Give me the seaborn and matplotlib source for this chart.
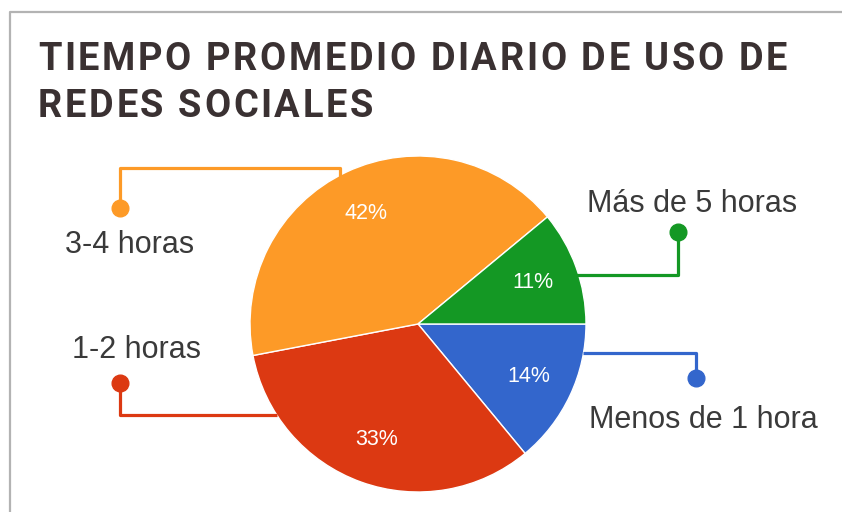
import matplotlib
matplotlib.use("Agg")
import matplotlib.pyplot as plt
import seaborn as sns
from matplotlib.font_manager import FontProperties, findfont
from matplotlib.ft2font import FT2Font

# datos del grafico
categorias = ["Menos de 1 hora", "1-2 horas", "3-4 horas", "Más de 5 horas"]
porcentajes = [14, 33, 42, 11]
colores = ["#3366cc", "#dc3912", "#fd9a27", "#149824"]
titulo = ["TIEMPO PROMEDIO DIARIO DE USO DE", "REDES SOCIALES"]

sns.set_theme(style="white")
plt.rcParams["font.family"] = ["Liberation Sans", "DejaVu Sans"]

W, H = 842, 512
CX, CY, R = 418, 324, 168   # centro y radio del pastel en pixeles


def px(x, y):
    # pixeles de la imagen -> coordenadas del eje
    return (x - CX) / R, (CY - y) / R


fig = plt.figure(figsize=(W / 100, H / 100), dpi=100)
ax = fig.add_axes([0, 0, 1, 1])

wedges, textos, autotextos = ax.pie(
    porcentajes,
    colors=colores,
    startangle=0,
    counterclock=False,
    autopct="%.0f%%",
    pctdistance=0.73,
    wedgeprops=dict(edgecolor="white", linewidth=1),
    textprops=dict(color="white", fontsize=15.5),
)
ax.set_aspect("auto")
ax.set_xlim(-CX / R, (W - CX) / R)
ax.set_ylim((CY - H) / R, CY / R)
ax.axis("off")

# lineas guia + etiquetas (posiciones en pixeles)
guias = {
    "Más de 5 horas": ([(567, 275), (678, 275), (678, 232)], (692, 212)),
    "Menos de 1 hora": ([(583, 353), (696, 353), (696, 378)], (703, 428)),
    "3-4 horas": ([(340, 238), (340, 168), (120, 168), (120, 208)], (130, 253)),
    "1-2 horas": ([(277, 415), (120, 415), (120, 383)], (137, 358)),
}
for cat, color in zip(categorias, colores):
    puntos, lab = guias[cat]
    xs, ys = zip(*[px(*p) for p in puntos])
    ax.plot(xs, ys, color=color, lw=2.3, solid_capstyle="butt", zorder=3)
    ax.plot(xs[-1], ys[-1], "o", color=color, ms=12, zorder=4)
    ax.text(*px(*lab), cat, ha="center", va="baseline", fontsize=22,
            color="#3a3a3a")

# titulo con espaciado entre letras
fp = FontProperties(family="Roboto", weight="bold")
ft = FT2Font(findfont(fp))
tam = 27.4
ft.set_size(tam, 100)
espacio = 2.6
for i, linea in enumerate(titulo):
    x = 38
    base = 70 + i * 47
    for c in linea:
        ax.text(*px(x, base), c, fontproperties=fp, fontsize=tam,
                color="#3a3132", va="baseline", ha="left")
        x += ft.load_char(ord(c)).linearHoriAdvance / 65536 + espacio

# marco gris
ax.plot(*zip(px(10, H + 5), px(10, 12), px(W + 5, 12)), color="#b3b3b3", lw=1.6)

fig.savefig("out.png", dpi=100)
